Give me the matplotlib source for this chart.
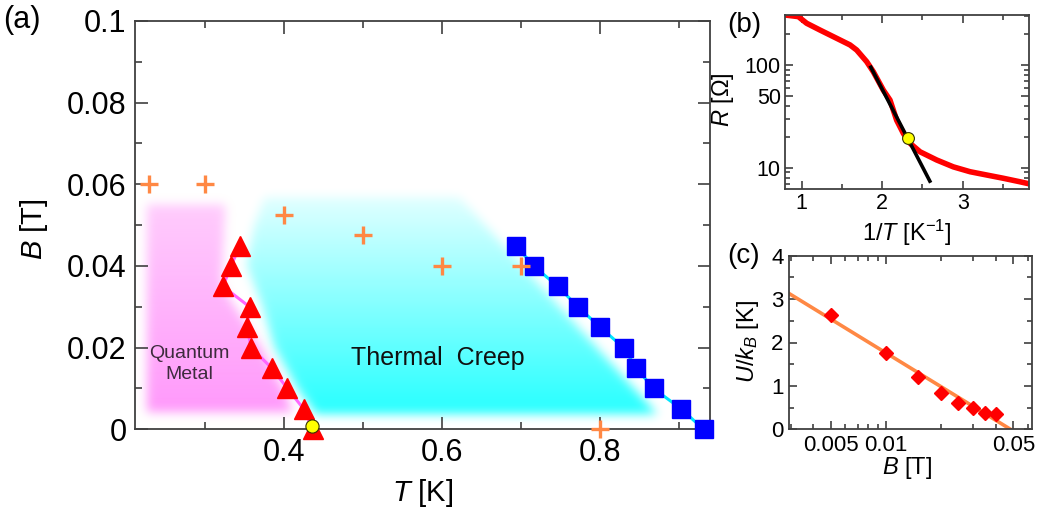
import numpy as np
import matplotlib
matplotlib.use('Agg')
import matplotlib.pyplot as plt
from matplotlib.path import Path
from matplotlib.ticker import FixedLocator, FixedFormatter, LogLocator, MultipleLocator, NullFormatter

plt.rcParams['font.family'] = ['Liberation Sans', 'DejaVu Sans']
plt.rcParams['mathtext.fontset'] = 'custom'
plt.rcParams['mathtext.it'] = 'Liberation Sans:italic'
plt.rcParams['mathtext.rm'] = 'Liberation Sans'

# ---------------- data: panel (a) ----------------
tri_T = [0.344, 0.3325, 0.3224, 0.356, 0.3528, 0.358, 0.384, 0.404, 0.4245, 0.436]
tri_B = [0.045, 0.040, 0.035, 0.030, 0.025, 0.020, 0.015, 0.010, 0.005, 0.0]
sq_T = [0.6937, 0.7156, 0.7464, 0.7717, 0.800, 0.8295, 0.8456, 0.8675, 0.9025, 0.9308]
sq_B = [0.045, 0.040, 0.035, 0.030, 0.025, 0.020, 0.015, 0.010, 0.005, 0.0]
plus_T = [0.229, 0.30, 0.40, 0.50, 0.60, 0.70, 0.80]
plus_B = [0.06, 0.06, 0.0525, 0.0475, 0.04, 0.04, 0.0]
circ_T = [0.435]
circ_B = [0.0007]
a_xticks = [0.4, 0.6, 0.8]
a_xticklabels = ['0.4', '0.6', '0.8']
a_yticks = [0, 0.02, 0.04, 0.06, 0.08, 0.1]
a_yticklabels = ['0', '0.02', '0.04', '0.06', '0.08', '0.1']
# shaded regions (T, B)
qm_T = [0.225, 0.225, 0.325, 0.32, 0.37, 0.40, 0.41]
qm_B = [0.004, 0.055, 0.055, 0.035, 0.020, 0.009, 0.004]
tc_T = [0.44, 0.416, 0.387, 0.372, 0.352, 0.361, 0.375, 0.621, 0.873]
tc_B = [0.0035, 0.010, 0.020, 0.030, 0.040, 0.0495, 0.057, 0.057, 0.0035]

# ---------------- data: panel (b) ----------------
invT = [0.793, 0.959, 1.062, 1.228, 1.435, 1.600, 1.683, 1.807, 1.890, 2.014, 2.097,
        2.180, 2.263, 2.346, 2.470, 2.677, 2.884, 3.091, 3.298, 3.505, 3.712, 3.816]
R = [307, 296, 255, 219, 182, 157, 140, 108, 86, 57, 45.6,
     29, 21.6, 17.3, 14.3, 11.9, 10.2, 9.15, 8.5, 7.9, 7.3, 7.0]
fit_invT = [1.849, 2.602]
fit_R = [98.6, 7.15]
b_pt_invT = [2.317]
b_pt_R = [19.6]
b_xticks = [1, 2, 3]
b_xticklabels = ['1', '2', '3']
b_yticks = [10, 50, 100]
b_yticklabels = ['10', '50', '100']

# ---------------- data: panel (c) ----------------
c_B = [0.005, 0.010, 0.015, 0.020, 0.025, 0.030, 0.035, 0.040]
c_U = [2.63, 1.75, 1.20, 0.83, 0.60, 0.48, 0.37, 0.35]
cfit_B = [0.00294, 0.0496]
cfit_U = [3.13, -0.03]
c_xticks = [0.005, 0.01, 0.05]
c_xticklabels = ['0.005', '0.01', '0.05']
c_yticks = [0, 1, 2, 3, 4]
c_yticklabels = ['0', '1', '2', '3', '4']

# ---------------- figure ----------------
fig = plt.figure(figsize=(10.44, 5.16), dpi=100)
spine_col = '#404040'

def style_axes(ax, size, major_len=9, minor_len=5, pad=6):
    for s in ax.spines.values():
        s.set_color(spine_col)
        s.set_linewidth(1.3)
    ax.tick_params(which='both', direction='in', top=True, right=True,
                   color=spine_col, width=1.2, labelsize=size, pad=pad)
    ax.tick_params(which='major', length=major_len)
    ax.tick_params(which='minor', length=minor_len)

def blurred_region(xs_poly, ys_poly, xlim, ylim, nx, ny, sigma):
    xs = np.linspace(xlim[0], xlim[1], nx)
    ys = np.linspace(ylim[0], ylim[1], ny)
    X, Y = np.meshgrid(xs, ys)
    path = Path(np.column_stack([xs_poly, ys_poly]))
    m = path.contains_points(np.column_stack([X.ravel(), Y.ravel()])).reshape(ny, nx).astype(float)
    r = int(3 * sigma)
    t = np.arange(-r, r + 1)
    k = np.exp(-0.5 * (t / sigma) ** 2)
    k /= k.sum()
    m = np.apply_along_axis(lambda v: np.convolve(v, k, mode='same'), 1, m)
    m = np.apply_along_axis(lambda v: np.convolve(v, k, mode='same'), 0, m)
    return Y, m

# ----- panel (a)
axA = fig.add_axes([135 / 1044, 1 - 429.3 / 516, 575 / 1044, 408.3 / 516])
xlimA = (0.211, 0.939)
ylimA = (0.0, 0.1)
nx, ny = 575, 408
Y, mq = blurred_region(qm_T, qm_B, xlimA, ylimA, nx, ny, 5)
rgba = np.zeros((ny, nx, 4))
rgba[..., 0] = 1.0
rgba[..., 1] = 130 / 255
rgba[..., 2] = 250 / 255
rgba[..., 3] = mq * np.clip(0.85 - 8 * Y, 0.1, 1)
axA.imshow(rgba, origin='lower', extent=(*xlimA, *ylimA), aspect='auto', zorder=0, interpolation='bilinear')
Y, mc = blurred_region(tc_T, tc_B, xlimA, ylimA, nx, ny, 5)
rgba = np.zeros((ny, nx, 4))
rgba[..., 0] = 20 / 255
rgba[..., 1] = 1.0
rgba[..., 2] = 1.0
rgba[..., 3] = mc * np.clip(0.98 - 15 * Y, 0.1, 1)
axA.imshow(rgba, origin='lower', extent=(*xlimA, *ylimA), aspect='auto', zorder=0, interpolation='bilinear')

axA.plot(tri_T, tri_B, '-', color='#ff66ff', lw=2.2, zorder=2)
axA.plot(tri_T, tri_B, '^', color='#ff0000', ms=14.5, mec='#ff0000', ls='none', zorder=3, clip_on=False)
axA.plot(sq_T, sq_B, '-', color='#00e5ff', lw=2.2, zorder=2)
axA.plot(sq_T, sq_B, 's', color='#0000ff', ms=13.5, mec='#0000ff', ls='none', zorder=3, clip_on=False)
axA.plot(plus_T, plus_B, '+', color='#ff8844', ms=13, mew=2.4, ls='none', zorder=4, clip_on=False)
axA.plot(circ_T, circ_B, 'o', color='#ffff00', ms=9.5, mec='#333300', mew=0.8, ls='none', zorder=5, clip_on=False)

axA.text(0.28, 0.016, 'Quantum\nMetal', ha='center', va='center', fontsize=14,
         color='#3d2b3d', linespacing=1.25, zorder=6)
axA.text(0.594, 0.0174, 'Thermal  Creep', ha='center', va='center', fontsize=18,
         color='#101010', zorder=6)

axA.set_xlim(*xlimA)
axA.set_ylim(*ylimA)
axA.xaxis.set_major_locator(FixedLocator(a_xticks))
axA.xaxis.set_major_formatter(FixedFormatter(a_xticklabels))
axA.xaxis.set_minor_locator(MultipleLocator(0.1))
axA.yaxis.set_major_locator(FixedLocator(a_yticks))
axA.yaxis.set_major_formatter(FixedFormatter(a_yticklabels))
axA.yaxis.set_minor_locator(MultipleLocator(0.01))
style_axes(axA, 22, major_len=9, minor_len=5, pad=6)
axA.set_xlabel(r'$T$ [K]', fontsize=21)
axA.set_ylabel(r'$B$ [T]', fontsize=21)
axA.xaxis.set_label_coords(0.5, -0.118)
axA.yaxis.set_label_coords(-0.147, 0.49)

# ----- panel (b)
axB = fig.add_axes([785 / 1044, 1 - 189.3 / 516, 244.3 / 1044, 174.3 / 516])
axB.plot(invT, R, '-', color='#ff0000', lw=4, zorder=2, solid_joinstyle='round')
axB.plot(fit_invT, fit_R, '-', color='#000000', lw=2.6, zorder=3, solid_capstyle='butt')
axB.plot(b_pt_invT, b_pt_R, 'o', color='#ffff00', ms=8.5, mec='#333300', mew=0.8, ls='none', zorder=4)
axB.set_yscale('log')
axB.set_xlim(0.793, 3.827)
axB.set_ylim(6.17, 307)
axB.xaxis.set_major_locator(FixedLocator(b_xticks))
axB.xaxis.set_major_formatter(FixedFormatter(b_xticklabels))
axB.xaxis.set_minor_locator(MultipleLocator(0.5))
axB.yaxis.set_major_locator(FixedLocator(b_yticks))
axB.yaxis.set_major_formatter(FixedFormatter(b_yticklabels))
axB.yaxis.set_minor_locator(LogLocator(base=10, subs=np.arange(2, 10), numticks=20))
axB.yaxis.set_minor_formatter(NullFormatter())
style_axes(axB, 15.5, major_len=6, minor_len=3.5, pad=3)
axB.set_xlabel(r'1/$T$ [K$^{-1}$]', fontsize=17)
axB.set_ylabel(r'$R$ [$\Omega$]', fontsize=17)
axB.xaxis.set_label_coords(0.498, -0.165)
axB.yaxis.set_label_coords(-0.2, 0.512)

# ----- panel (c)
axC = fig.add_axes([789 / 1044, 1 - 429.3 / 516, 243.3 / 1044, 173.6 / 516])
axC.plot(cfit_B, cfit_U, '-', color='#ff8844', lw=2.6, zorder=2)
axC.plot(c_B, c_U, 'D', color='#ff0000', ms=7, mec='#ff0000', ls='none', zorder=3)
axC.set_xscale('log')
axC.set_xlim(0.00294, 0.0636)
axC.set_ylim(0, 4)
axC.xaxis.set_major_locator(FixedLocator(c_xticks))
axC.xaxis.set_major_formatter(FixedFormatter(c_xticklabels))
axC.xaxis.set_minor_locator(LogLocator(base=10, subs=np.arange(1, 10), numticks=20))
axC.xaxis.set_minor_formatter(NullFormatter())
axC.yaxis.set_major_locator(FixedLocator(c_yticks))
axC.yaxis.set_major_formatter(FixedFormatter(c_yticklabels))
axC.yaxis.set_minor_locator(MultipleLocator(0.5))
style_axes(axC, 16, major_len=6, minor_len=3.5, pad=4)
axC.set_xlabel(r'$B$ [T]', fontsize=17)
axC.set_ylabel(r'$U/k_B$ [K]', fontsize=17)
axC.xaxis.set_label_coords(0.484, -0.15)
axC.yaxis.set_label_coords(-0.115, 0.503)

# panel letters
fig.text(22 / 1044, 1 - 20 / 516, '(a)', fontsize=22, ha='center', va='center')
fig.text(744 / 1044, 1 - 25 / 516, '(b)', fontsize=20, ha='center', va='center')
fig.text(744 / 1044, 1 - 256 / 516, '(c)', fontsize=20, ha='center', va='center')

fig.savefig('out.png', dpi=100)
